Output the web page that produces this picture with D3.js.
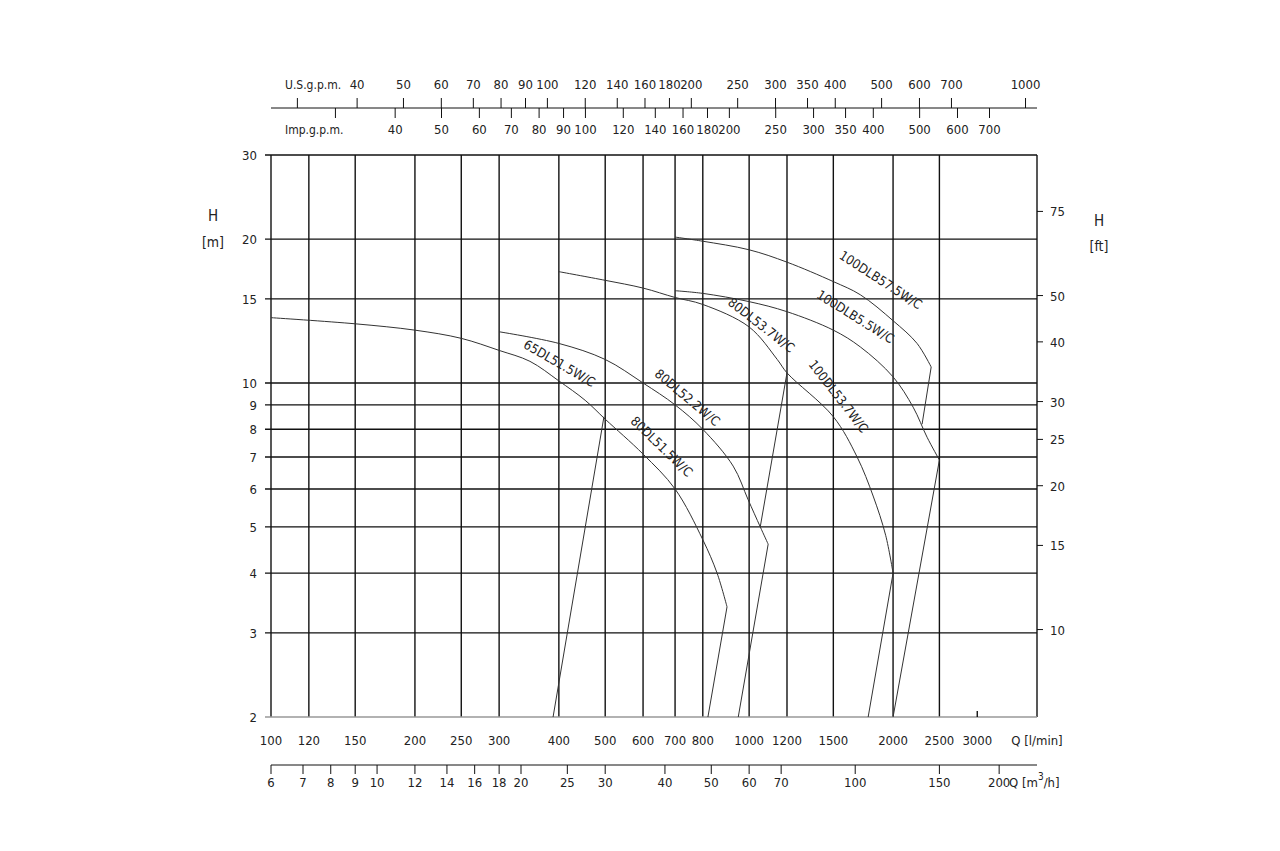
<!DOCTYPE html>
<html>
<head>
<meta charset="utf-8">
<script src="https://cdn.jsdelivr.net/npm/d3@7"></script>
<style>
body { margin: 0; background: #fff; }
text { font-family: "DejaVu Sans Condensed", "Liberation Sans Narrow", sans-serif; fill: #222; }
</style>
</head>
<body>
<div class="plot"></div>
<script>
// tick values
var qTicks = [100, 120, 150, 200, 250, 300, 400, 500, 600, 700, 800, 1000, 1200, 1500, 2000, 2500, 3000];
var qGrid = [100, 120, 150, 200, 250, 300, 400, 500, 600, 700, 800, 1000, 1200, 1500, 2000, 2500, 4000];
var hTicks = [2, 3, 4, 5, 6, 7, 8, 9, 10, 15, 20, 30];
var ftTicks = [10, 15, 20, 25, 30, 40, 50, 75];
var usTicks = [30, 40, 50, 60, 70, 80, 90, 100, 120, 140, 160, 180, 200, 250, 300, 350, 400, 500, 600, 700, 1000];
var impTicks = [30, 40, 50, 60, 70, 80, 90, 100, 120, 140, 160, 180, 200, 250, 300, 350, 400, 500, 600, 700];
var m3hTicks = [6, 7, 8, 9, 10, 12, 14, 16, 18, 20, 25, 30, 40, 50, 60, 70, 100, 150, 200];

// pump curves [Q l/min, H m]
var curve65_80 = [[100,13.7],[150,13.3],[200,12.9],[250,12.4],[300,11.7],[348,11.1],[400,10.1],[454,9.2],[500,8.4],[600,7.1],[700,6.0],[800,4.7],[857,4.0],[899,3.4]];
var curve80_22 = [[300,12.8],[400,12.1],[500,11.2],[600,10.0],[700,9.0],[800,8.0],[926,6.7],[995,5.7],[1055,5.0],[1096,4.6]];
var curve80_37 = [[400,17.1],[500,16.4],[600,15.8],[700,15.1],[800,14.6],[1000,13.1],[1145,11.2],[1200,10.5],[1500,8.5],[1682,7.0],[1817,5.8],[1930,4.8],[2000,4.0]];
var curveB55 = [[700,15.6],[800,15.4],[1000,14.8],[1200,14.1],[1500,12.9],[1708,11.9],[2000,10.3],[2203,8.9],[2356,7.7],[2500,6.9]];
var curveB75 = [[700,20.2],[800,19.8],[1000,19.0],[1200,17.9],[1500,16.3],[1708,15.3],[2000,13.5],[2245,12.1],[2403,10.8]];

// operating range limits
var limits = [
  [[389,2],[497,8.5]],
  [[899,3.4],[820,2]],
  [[1096,4.6],[949,2]],
  [[1200,10.5],[1055,5.0]],
  [[2000,4.0],[1774,2]],
  [[2500,6.9],[2000,2]],
  [[2403,10.8],[2300,8.2]]
];

var labels = [
  {t: "65DL51.5W/C", q: 395, h: 10.7, a: 30},
  {t: "80DL51.5W/C", q: 642, h: 7.2, a: 44},
  {t: "80DL52.2W/C", q: 728, h: 9.1, a: 40},
  {t: "80DL53.7W/C", q: 1040, h: 12.9, a: 38},
  {t: "100DL53.7W/C", q: 1500, h: 9.2, a: 52},
  {t: "100DLB5.5W/C", q: 1641, h: 13.4, a: 32},
  {t: "100DLB57.5W/C", q: 1853, h: 16.0, a: 33}
];

var svgWidth = 1280, svgHeight = 851;
var svg = d3.select(".plot").append("svg")
  .attr("width", svgWidth).attr("height", svgHeight);

var x0 = 271, x1 = 1037, yTop = 155, yBot = 717;
var x = d3.scaleLog().domain([100, 4000]).range([x0, x1]);
var y = d3.scaleLog().domain([2, 30]).range([yBot, yTop]);
var yft = d3.scaleLog().domain([2 / 0.3048, 30 / 0.3048]).range([yBot, yTop]);

// grid
var grid = svg.append("g").attr("stroke", "#111").attr("stroke-width", 1.4);
grid.selectAll(".v").data(qGrid).enter().append("line")
  .attr("x1", d => x(d)).attr("x2", d => x(d))
  .attr("y1", yTop).attr("y2", yBot);
grid.selectAll(".h").data(hTicks).enter().append("line")
  .attr("x1", x0 - 6).attr("x2", x1)
  .attr("y1", d => y(d)).attr("y2", d => y(d))
  .attr("stroke", d => d === 2 ? "#999" : "#111");
// small tick for 3000 at the bottom
grid.append("line").attr("x1", x(3000)).attr("x2", x(3000))
  .attr("y1", yBot - 6).attr("y2", yBot);

// left labels
svg.selectAll(".hl").data(hTicks).enter().append("text")
  .attr("x", x0 - 14).attr("y", d => y(d) + 5)
  .attr("text-anchor", "end").attr("font-size", 13).text(d => d);
svg.append("text").attr("x", 213).attr("y", 221).attr("text-anchor", "middle").attr("font-size", 15).text("H");
svg.append("text").attr("x", 213).attr("y", 247).attr("text-anchor", "middle").attr("font-size", 14).text("[m]");

// right ft axis
svg.selectAll(".ft").data(ftTicks).enter().append("line")
  .attr("x1", x1).attr("x2", x1 + 6)
  .attr("y1", d => yft(d)).attr("y2", d => yft(d)).attr("stroke", "#111");
svg.selectAll(".ftl").data(ftTicks).enter().append("text")
  .attr("x", x1 + 13).attr("y", d => yft(d) + 5).attr("font-size", 13).text(d => d);
svg.append("text").attr("x", 1099).attr("y", 226).attr("text-anchor", "middle").attr("font-size", 15).text("H");
svg.append("text").attr("x", 1099).attr("y", 251).attr("text-anchor", "middle").attr("font-size", 14).text("[ft]");

// bottom Q labels
svg.selectAll(".ql").data(qTicks).enter().append("text")
  .attr("x", d => x(d)).attr("y", 745).attr("text-anchor", "middle")
  .attr("font-size", 13).text(d => d);
svg.append("text").attr("x", 1037).attr("y", 745).attr("text-anchor", "middle").attr("font-size", 13).text("Q [l/min]");

// m3/h axis
var yM = 765;
svg.append("line").attr("x1", x0).attr("x2", x1).attr("y1", yM).attr("y2", yM).attr("stroke", "#111");
svg.selectAll(".mt").data(m3hTicks).enter().append("line")
  .attr("x1", d => x(d * 1000 / 60)).attr("x2", d => x(d * 1000 / 60))
  .attr("y1", yM).attr("y2", yM + 9).attr("stroke", "#111");
svg.selectAll(".ml").data(m3hTicks).enter().append("text")
  .attr("x", d => x(d * 1000 / 60)).attr("y", 787).attr("text-anchor", "middle")
  .attr("font-size", 13).text(d => d);
var ml = svg.append("text").attr("x", 1009).attr("y", 787).attr("font-size", 13);
ml.append("tspan").text("Q [m");
ml.append("tspan").attr("dy", -7).attr("font-size", 10).text("3");
ml.append("tspan").attr("dy", 7).text("/h]");

// top gpm axes
var yG = 108;
svg.append("line").attr("x1", x0).attr("x2", x1).attr("y1", yG).attr("y2", yG).attr("stroke", "#111");
svg.selectAll(".us").data(usTicks).enter().append("line")
  .attr("x1", d => x(d * 3.785)).attr("x2", d => x(d * 3.785))
  .attr("y1", yG).attr("y2", yG - 10).attr("stroke", "#111");
svg.selectAll(".usl").data(usTicks.slice(1)).enter().append("text")
  .attr("x", d => x(d * 3.785)).attr("y", 89).attr("text-anchor", "middle")
  .attr("font-size", 13).text(d => d);
svg.append("text").attr("x", 285).attr("y", 89).attr("font-size", 12).text("U.S.g.p.m.");
svg.selectAll(".imp").data(impTicks).enter().append("line")
  .attr("x1", d => x(d * 4.546)).attr("x2", d => x(d * 4.546))
  .attr("y1", yG).attr("y2", yG + 10).attr("stroke", "#111");
svg.selectAll(".impl").data(impTicks.slice(1)).enter().append("text")
  .attr("x", d => x(d * 4.546)).attr("y", 134).attr("text-anchor", "middle")
  .attr("font-size", 13).text(d => d);
svg.append("text").attr("x", 285).attr("y", 134).attr("font-size", 12).text("Imp.g.p.m.");

// curves
var line = d3.line().x(d => x(d[0])).y(d => y(d[1])).curve(d3.curveCatmullRom.alpha(0.5));
var straight = d3.line().x(d => x(d[0])).y(d => y(d[1]));
[curve65_80, curve80_22, curve80_37, curveB55, curveB75].forEach(function (c) {
  svg.append("path").attr("d", line(c)).attr("fill", "none")
    .attr("stroke", "#333").attr("stroke-width", 1);
});
limits.forEach(function (l) {
  svg.append("path").attr("d", straight(l)).attr("fill", "none")
    .attr("stroke", "#333").attr("stroke-width", 1);
});

svg.selectAll(".lab").data(labels).enter().append("text")
  .attr("transform", d => `translate(${x(d.q)},${y(d.h)}) rotate(${d.a})`)
  .attr("text-anchor", "middle").attr("dy", -2).attr("font-size", 13).text(d => d.t);
</script>
</body>
</html>
